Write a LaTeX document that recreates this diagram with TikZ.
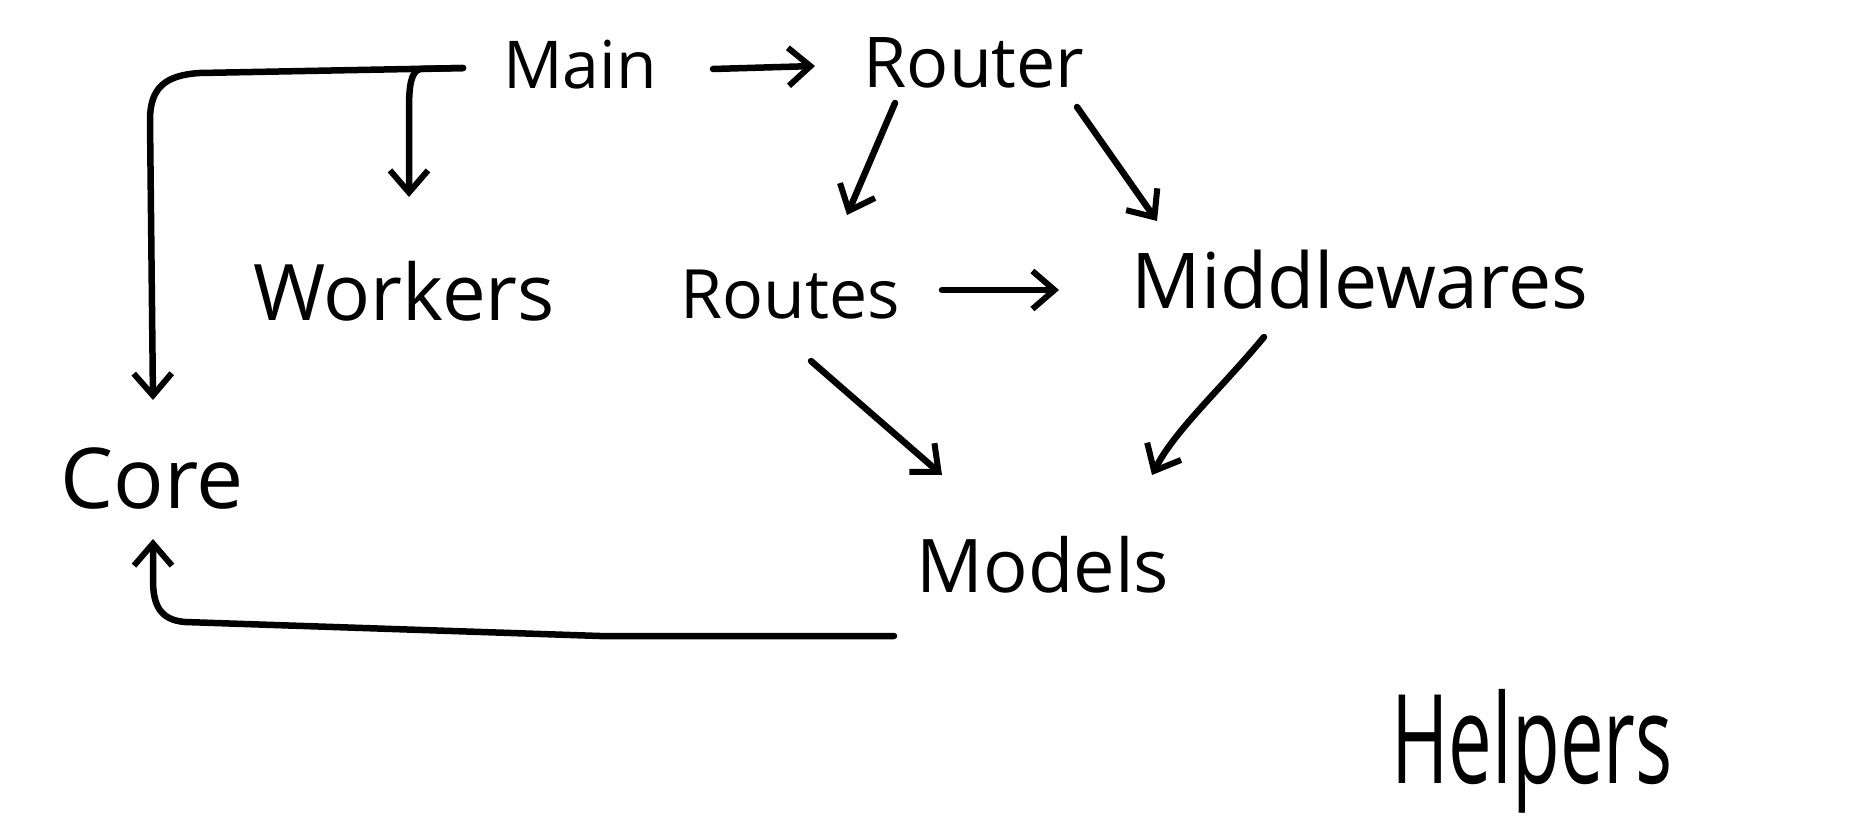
\documentclass[tikz,border=0pt]{standalone}
\usepackage{fontspec}
\setmainfont{Open Sans}
\usetikzlibrary{arrows.meta,calc}
\begin{document}
\begin{tikzpicture}[x=1pt,y=-1pt, line width=6.5pt, line cap=round, line join=round,
  lbl/.style={inner sep=0pt, anchor=base},
  arr/.style={-{Straight Barb[length=22pt,width=38pt,line width=6pt]}}]
\useasboundingbox[fill=white] (0,0) rectangle (1870,832);
\node[lbl, font=\fontsize{66}{72}\selectfont] (main) at (580,89) {Main};
\node[lbl, font=\fontsize{70}{76}\selectfont] (router) at (974,88) {Router};
\node[lbl, font=\fontsize{78}{84}\selectfont] (workers) at (404,320) {Workers};
\node[lbl, font=\fontsize{68}{74}\selectfont] (routes) at (790,318) {Routes};
\node[lbl, font=\fontsize{77}{82}\selectfont] (middlewares) at (1360,308) {Middlewares};
\node[lbl, font=\fontsize{84}{90}\selectfont] (core) at (152,508) {Core};
\node[lbl, font=\fontsize{74}{80}\selectfont] (models) at (1043,592) {Models};
\node[lbl] (helpers) at (1532,783) {\scalebox{0.66}[1.05]{\fontsize{118}{124}\selectfont Helpers}};

% Main -> Router
\draw[arr] ($(main.base)+(133,-20)$) -- ($(router.base)+(-159,-22)$);
% Main -> Workers and Main -> Core (shared top line)
\draw[arr] ($(main.base)+(-117,-21)$) -- (420,69)
  .. controls (411,72) and (409,85) .. (409,110) -- ($(workers.base)+(5,-123)$);
\draw[arr] ($(main.base)+(-117,-21)$) -- (200,73)
  .. controls (165,75) and (150,88) .. (150,120) -- ($(core.base)+(1,-108)$);
% Router -> Routes, Router -> Middlewares
\draw[arr] ($(router.base)+(-79,15)$) -- ($(routes.base)+(57,-103)$);
\draw[arr] ($(router.base)+(103,19)$) -- ($(middlewares.base)+(-203,-87)$);
% Routes -> Middlewares
\draw[arr] ($(routes.base)+(152,-28)$) -- ($(middlewares.base)+(-301,-18)$);
% Routes -> Models
\draw[arr] ($(routes.base)+(21,43)$) -- ($(models.base)+(-101,-117)$);
% Middlewares -> Models
\draw[arr] ($(middlewares.base)+(-96,29)$) .. controls (1220,390) and (1175,430) .. ($(models.base)+(109,-117)$);
% Models -> Core
\draw[arr] ($(models.base)+(-149,44)$) -- (600,636) -- (185,622)
  .. controls (160,620) and (153,605) .. (153,580) -- ($(core.base)+(1,31)$);
\end{tikzpicture}
\end{document}
